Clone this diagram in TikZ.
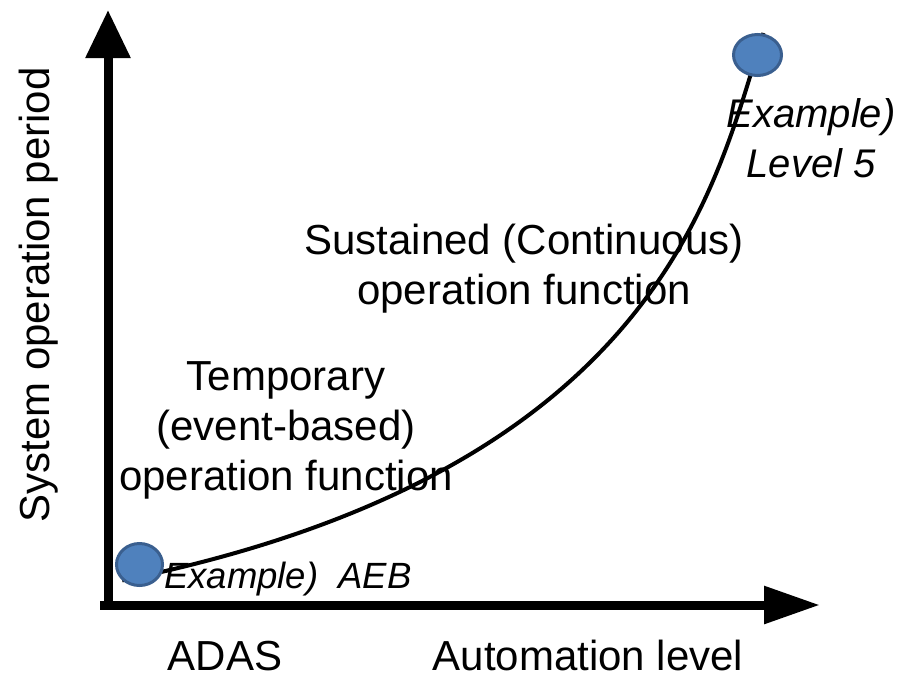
\documentclass[tikz,border=0pt]{standalone}
\usepackage{fontspec}
\setmainfont{Liberation Sans}
\usetikzlibrary{arrows.meta,backgrounds,shapes.geometric}
\definecolor{dotfill}{HTML}{4F81BD}
\definecolor{dotline}{HTML}{3A5F8F}
\tikzset{
  axisline/.style={line width=9pt, line cap=butt},
  curveline/.style={line width=4pt, black},
  dot/.style={ellipse, fill=dotfill, draw=dotline, line width=3pt, inner sep=0pt},
  lbl/.style={font=\fontsize{42}{50}\selectfont, inner sep=0pt, align=center},
  ital/.style={font=\fontsize{40}{50}\selectfont\itshape, inner sep=0pt, align=center},
  itals/.style={font=\fontsize{36.5}{42}\selectfont\itshape, inner sep=0pt},
}
\begin{document}
\begin{tikzpicture}[x=1pt,y=-1pt]
\useasboundingbox (0,0) rectangle (901,678);
% axes
\coordinate (origin) at (108,609);
\coordinate (ytip) at (108,10);
\coordinate (xstart) at (100,605);
\coordinate (xtip) at (820,605);
\draw[axisline, -{Triangle[length=48pt,width=43pt]}] (origin) -- (ytip);
\draw[axisline, -{Triangle[length=56pt,width=36pt]}] (xstart) -- (xtip);
% points
\node[dot, minimum width=46pt, minimum height=42pt] (adas) at (139.5,564.5) {};
\node[dot, minimum width=48pt, minimum height=41pt] (l5) at (757.5,55) {};
\begin{pgfonlayer}{background}
\draw[curveline] (adas.south west) .. controls (665,470) and (716,180) .. ([xshift=6pt]l5.north);
\end{pgfonlayer}
% labels
\node[lbl, rotate=90, anchor=base] (ylab) at (49,295) {System operation period};
\node[lbl, anchor=base] (adaslab) at (225,670) {ADAS};
\node[lbl, anchor=base] (xlab) at (588,670) {Automation level};
\node[lbl, anchor=base] (temp) at (286,490) {Temporary\\(event-based)\\operation function};
\node[lbl, anchor=base] (sust) at (524,304) {Sustained (Continuous)\\operation function};
\node[ital, anchor=base] (ex5) at (811,177) {Example)\\Level 5};
\node[itals, anchor=base west] (exaeb) at (164,588) {Example)\ \ AEB};
\end{tikzpicture}
\end{document}
